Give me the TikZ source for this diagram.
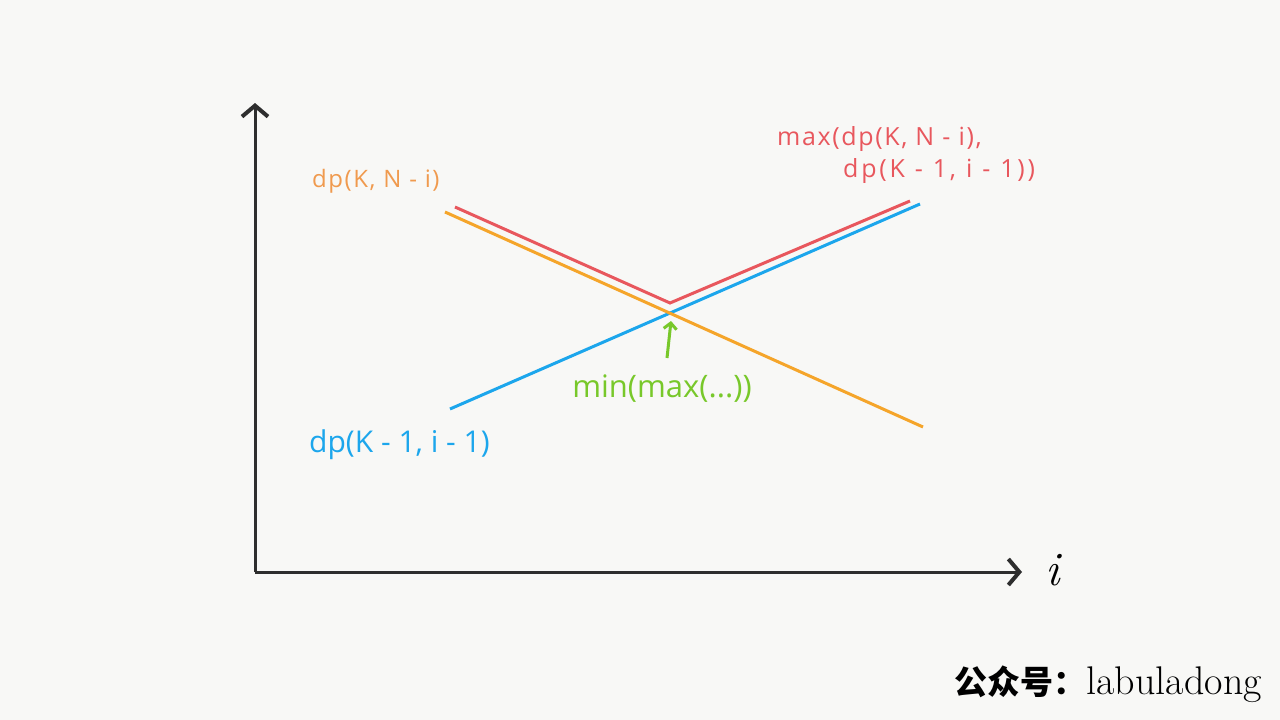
\documentclass[tikz,border=0pt]{standalone}
\usepackage{fontspec}
\setsansfont{Open Sans}
\newfontfamily\cjk{Noto Sans CJK SC}
\newfontfamily\lblfont{Open Sans}
\newfontfamily\lblloose[LetterSpace=6.5]{Open Sans}
\newfontfamily\lblwide[LetterSpace=11]{Open Sans}
\usetikzlibrary{arrows.meta}

\definecolor{curvered}{HTML}{E8575D}
\definecolor{curveorange}{HTML}{F5A52A}
\definecolor{textorange}{HTML}{F09A4E}
\definecolor{curveblue}{HTML}{1CA6EC}
\definecolor{mingreen}{HTML}{78C82A}
\definecolor{axisgray}{HTML}{2E2E2E}
\definecolor{paper}{HTML}{F8F8F6}

\tikzset{
  axis/.style = {axisgray, line width = 3pt, -{Straight Barb[length = 11pt, width = 26pt, line width = 4pt]}},
  curve/.style = {line width = 3pt},
  lbl/.style = {inner sep = 0pt, anchor = base west}
}

\begin{document}
\begin{tikzpicture}[x = 1pt, y = -1pt]
\fill[paper] (0,0) rectangle (1280,720);
\useasboundingbox (0,0) rectangle (1280,720);

\coordinate (O) at (255,572);
\coordinate (Y) at (255,103);
\coordinate (X) at (1022,572);

\coordinate (o1) at (445,212);
\coordinate (o2) at (923,427);
\coordinate (r1) at (455,207);
\coordinate (r2) at (670,303);
\coordinate (r3) at (910,201);
\coordinate (b1) at (450,409);
\coordinate (b2) at (920,204);

\draw[axis] (O) -- (Y);
\draw[axis] (O) -- (X);
\node (i) at (1053,570) {\fontsize{48}{48}\selectfont\itshape i};

\draw[curve, curveblue] (b1) -- (b2);
\draw[curve, curveorange] (o1) -- (o2);
\draw[curve, curvered, line join = miter] (r1) -- (r2) -- (r3);

\node[lbl, textorange] (lN) at (312,187) {\lblloose\fontsize{24}{28}\selectfont dp(K, N - i)};
\node[lbl, curveblue] (lK) at (309,452) {\lblfont\fontsize{30}{34}\selectfont dp(K - 1, i - 1)};
\node[lbl, curvered] (lmax1) at (777,145) {\lblloose\fontsize{25}{30}\selectfont max(dp(K, N - i),};
\node[lbl, curvered] (lmax2) at (843,177) {\lblwide\fontsize{25}{30}\selectfont\spaceskip=0.4em dp(K - 1, i - 1))};
\node[inner sep = 0pt, anchor = base, mingreen] (lmin) at (662,397) {\lblfont\fontsize{31}{36}\selectfont min(max(...))};
\draw[mingreen, line width = 3pt, -{Straight Barb[length = 6pt, width = 13pt, line width = 3pt]}] (667,358) -- (671,321);

\node[anchor = east, inner sep = 0pt] (wm) at (1262,684)
  {{\cjk\bfseries\fontsize{33}{33}\selectfont 公众号：}{\fontsize{40}{40}\selectfont labuladong}};
\end{tikzpicture}
\end{document}
